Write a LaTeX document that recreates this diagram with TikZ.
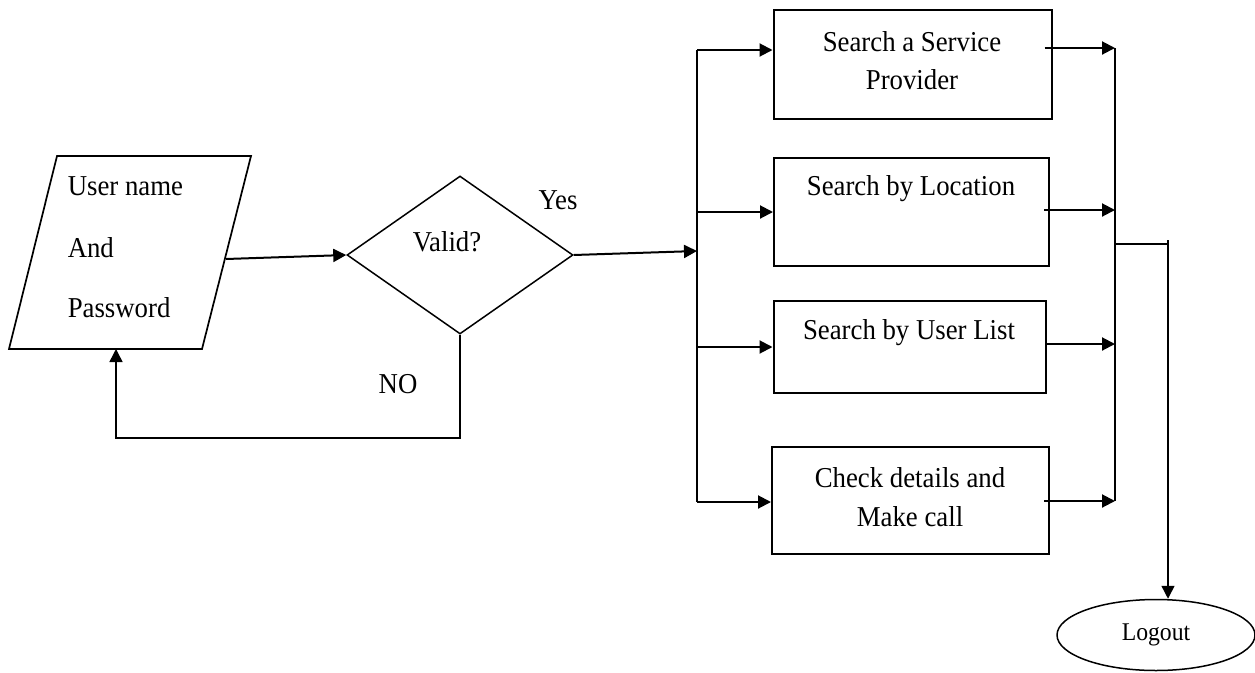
\documentclass[tikz,border=0pt]{standalone}
\usepackage{fontspec}
\setmainfont[FakeStretch=0.93]{Liberation Serif}
\usetikzlibrary{arrows.meta,shapes.geometric,calc}
\begin{document}
\begin{tikzpicture}[x=1pt,y=-1pt,
  line width=1.5pt, line join=miter,
  tip/.style={-{Triangle[length=13pt,width=13pt]}},
  heavy/.style={line width=2pt},
  txt/.style={font=\fontsize{28.8}{32}\selectfont, inner sep=0pt},
  box/.style={draw, rectangle, line width=2pt, inner sep=0pt},
]
\useasboundingbox (0,0) rectangle (1255,672);

% input parallelogram
\draw[line width=1.7pt] (57,156) -- (251,156) -- (202,349) -- (9,349) -- cycle;
\coordinate (inR) at (226,259);
\coordinate (inB) at (116,349);
\node[txt, anchor=west] (t1) at (67,186) {User name};
\node[txt, anchor=west] (t2) at (67,248) {And};
\node[txt, anchor=west] (t3) at (67,308) {Password};

% decision
\node[draw, diamond, inner sep=0pt, minimum width=226pt, minimum height=158pt] (dia) at (460,255) {};
\node[txt] (vq) at (447,242) {Valid?};
\node[txt] (yes) at (558,200) {Yes};
\node[txt] (no) at (398,384) {NO};

% four actions
\node[box, minimum width=278pt, minimum height=109pt] (b1) at (912.5,64) {};
\node[box, minimum width=275pt, minimum height=108pt] (b2) at (911.5,212) {};
\node[box, minimum width=272pt, minimum height=92pt] (b3) at (909.5,347) {};
\node[box, minimum width=277pt, minimum height=107pt] (b4) at (910.5,500.5) {};
\node[txt] (l1a) at (912,42) {Search a Service};
\node[txt] (l1b) at (912,80) {Provider};
\node[txt] (l2) at (911,189) {Search by Location};
\node[txt] (l3) at (909,333) {Search by User List};
\node[txt] (l4a) at (910,478) {Check details and};
\node[txt] (l4b) at (910,517) {Make call};

% logout
\node[draw, ellipse, inner sep=0pt, minimum width=198pt, minimum height=71pt,
      font=\fontsize{25.5}{28}\selectfont] (lo) at (1156,635) {Logout};

% junction points
\coordinate (jy) at (697,251);
\coordinate (j1) at (697,50);
\coordinate (j2) at (697,212);
\coordinate (j3) at (697,347);
\coordinate (j4) at (697,502);
\coordinate (o1) at (1115,48);
\coordinate (o2) at (1115,210);
\coordinate (o3) at (1115,344);
\coordinate (o4) at (1115,501);
\coordinate (m) at (1115,244);
\coordinate (k) at (1168,244);
\coordinate (k0) at (1168,240);
\coordinate (nob) at (116,438);

% connectors
\draw[tip, heavy] (inR) -- (dia.west);
\draw[tip, heavy] (dia.east) -- (jy);
\draw[tip] (dia.south) |- (nob) -- (inB);

\draw (j1) -- (j4);
\draw[tip, heavy] (j1) -- (j1 -| b1.west);
\draw[tip, heavy] (j2) -- (j2 -| b2.west);
\draw[tip, heavy] (j3) -- (j3 -| b3.west);
\draw[tip, heavy] (j4) -- (j4 -| b4.west);

\draw[tip, heavy] ($(o1 -| b1.east)+(-8,0)$) -- (o1);
\draw[tip, heavy] ($(o2 -| b2.east)+(-6,0)$) -- (o2);
\draw[tip, heavy] (o3 -| b3.east) -- (o3);
\draw[tip, heavy] ($(o4 -| b4.east)+(-6,0)$) -- (o4);

\draw (o1) -- (o4);
\draw (m) -- (k);
\draw[tip] (k0) -- (k0 |- lo.north);
\end{tikzpicture}
\end{document}
